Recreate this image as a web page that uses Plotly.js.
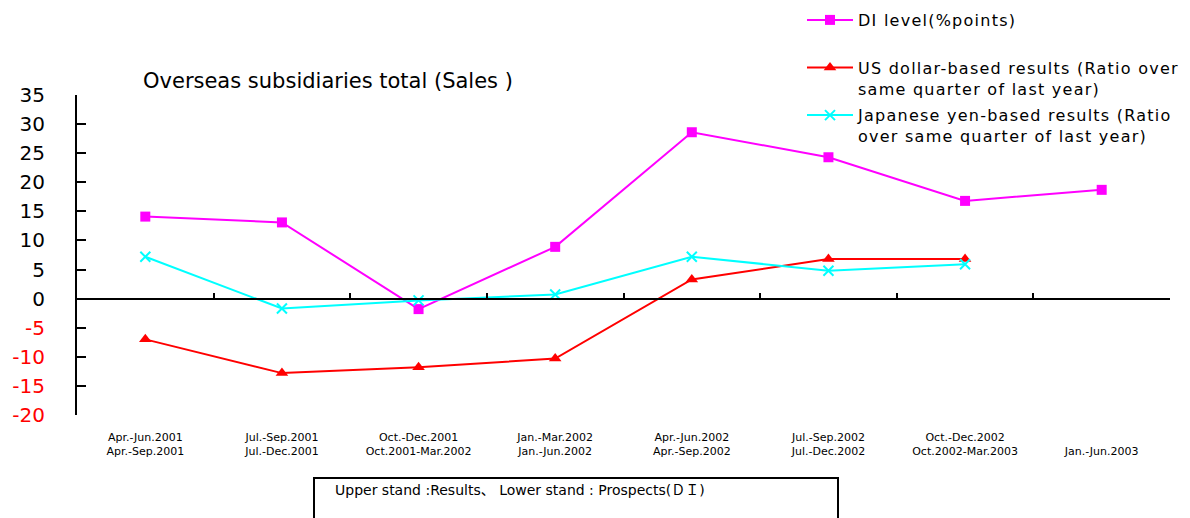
<!DOCTYPE html>
<html>
<head>
<meta charset="utf-8">
<script src="https://cdn.plot.ly/plotly-3.0.1.min.js"></script>
<style>
html,body{margin:0;padding:0;background:#fff;}
#chart .legend .legendtext{letter-spacing:1.25px;}
#chart .legend .scrollbox{clip-path:none !important;}
#chart .legend{clip-path:none !important;}
</style>
</head>
<body>
<div id="chart" style="width:1190px;height:518px;"></div>
<script>
// ---- data ----
const periodsResults = ["Apr.-Jun.2001","Jul.-Sep.2001","Oct.-Dec.2001","Jan.-Mar.2002","Apr.-Jun.2002","Jul.-Sep.2002","Oct.-Dec.2002",""];
const periodsProspects = ["Apr.-Sep.2001","Jul.-Dec.2001","Oct.2001-Mar.2002","Jan.-Jun.2002","Apr.-Sep.2002","Jul.-Dec.2002","Oct.2002-Mar.2003","Jan.-Jun.2003"];
const diLevel = [14.1, 13.1, -1.8, 8.9, 28.6, 24.3, 16.8, 18.7];
const usDollar = [-7.0, -12.8, -11.8, -10.3, 3.3, 6.8, 6.8];
const japaneseYen = [7.2, -1.7, -0.3, 0.7, 7.2, 4.8, 5.9];
const yTicks = [-20, -15, -10, -5, 0, 5, 10, 15, 20, 25, 30, 35];

const pos = periodsProspects.map((_, i) => i + 1);
const tickText = pos.map((_, i) => (periodsResults[i] || " ") + "<br>" + periodsProspects[i]);
const yTickText = yTicks.map(v => v < 0 ? '<span style="color:#ff0000">' + v + '</span>' : String(v));
const boundaries = pos.map(p => p + 0.5);

const FONT = "DejaVu Sans, Noto Sans CJK JP, sans-serif";

const traces = [
  {
    name: "DI level(%points)<br> ", legendgroup: "g1",
    x: pos, y: diLevel, mode: "lines+markers", type: "scatter",
    line: {color: "#ff00ff", width: 2},
    marker: {symbol: "square", size: 10, color: "#ff00ff"}
  },
  {
    name: "US dollar-based results (Ratio over<br>same quarter of last year)", legendgroup: "g2",
    x: pos.slice(0, usDollar.length), y: usDollar, mode: "lines+markers", type: "scatter",
    line: {color: "#ff0000", width: 2},
    marker: {symbol: "triangle-up", size: 11, color: "#ff0000"}
  },
  {
    name: "Japanese yen-based results (Ratio<br>over same quarter of last year)", legendgroup: "g3",
    x: pos.slice(0, japaneseYen.length), y: japaneseYen, mode: "lines+markers", type: "scatter",
    line: {color: "#00ffff", width: 2},
    marker: {symbol: "x-thin", size: 10, color: "#00ffff", line: {color: "#00ffff", width: 2}}
  },
  {
    x: [1], y: [null], xaxis: "x2", yaxis: "y", type: "scatter", mode: "lines",
    showlegend: false, hoverinfo: "skip"
  }
];

const layout = {
  width: 1190, height: 518,
  margin: {l: 77, r: 20, t: 95, b: 103, autoexpand: false},
  paper_bgcolor: "#ffffff", plot_bgcolor: "#ffffff",
  font: {family: FONT, color: "#000000"},
  showlegend: true,
  title: {
    text: "Overseas subsidiaries total (Sales )",
    font: {family: FONT, size: 21, color: "#000000"},
    xref: "container", yref: "container",
    x: 143 / 1190, xanchor: "left",
    y: 1 - 81 / 518, yanchor: "middle"
  },
  xaxis: {
    range: [0.5, 8.5], showgrid: false, zeroline: false, showline: false,
    tickvals: pos, ticktext: tickText, ticks: "", tickangle: 0,
    tickfont: {family: FONT, size: 11, color: "#000000"},
    ticklabelstandoff: 14, automargin: false
  },
  xaxis2: {
    overlaying: "x", anchor: "free", position: 20 / 55,
    range: [0.5, 8.5], showgrid: false, zeroline: false,
    showline: true, linecolor: "#000000", linewidth: 2,
    ticks: "inside", ticklen: 5, tickwidth: 2, tickcolor: "#000000",
    tickvals: boundaries, showticklabels: false
  },
  yaxis: {
    range: [-20, 35], showgrid: false, zeroline: false,
    showline: true, linecolor: "#000000", linewidth: 2,
    ticks: "inside", ticklen: 9, tickwidth: 2, tickcolor: "#000000",
    tickvals: yTicks, ticktext: yTickText,
    tickfont: {family: FONT, size: 20, color: "#000000"},
    ticklabelstandoff: 26, automargin: false
  },
  legend: {
    xref: "container", yref: "container",
    x: 802 / 1190, xanchor: "left",
    y: 1 - 3 / 518, yanchor: "top",
    font: {family: FONT, size: 16, color: "#000000"},
    bgcolor: "rgba(0,0,0,0)", borderwidth: 0,
    itemwidth: 46, valign: "top", tracegroupgap: 3
  },
  shapes: [{
    type: "rect", xref: "paper", yref: "paper",
    x0: (314 - 77) / 1093, x1: (838 - 77) / 1093,
    y0: (415 - 540) / 320, y1: (415 - 478) / 320,
    line: {color: "#000000", width: 2}, fillcolor: "rgba(0,0,0,0)"
  }],
  annotations: [{
    text: "Upper stand :Results、 Lower stand : Prospects(ＤＩ)",
    xref: "paper", yref: "paper",
    x: (333 - 77) / 1093, xanchor: "left",
    y: (415 - 490) / 320, yanchor: "middle",
    showarrow: false,
    font: {family: FONT, size: 14, color: "#000000"}
  }]
};

Plotly.newPlot("chart", traces, layout, {displayModeBar: false, staticPlot: true});
</script>
</body>
</html>
